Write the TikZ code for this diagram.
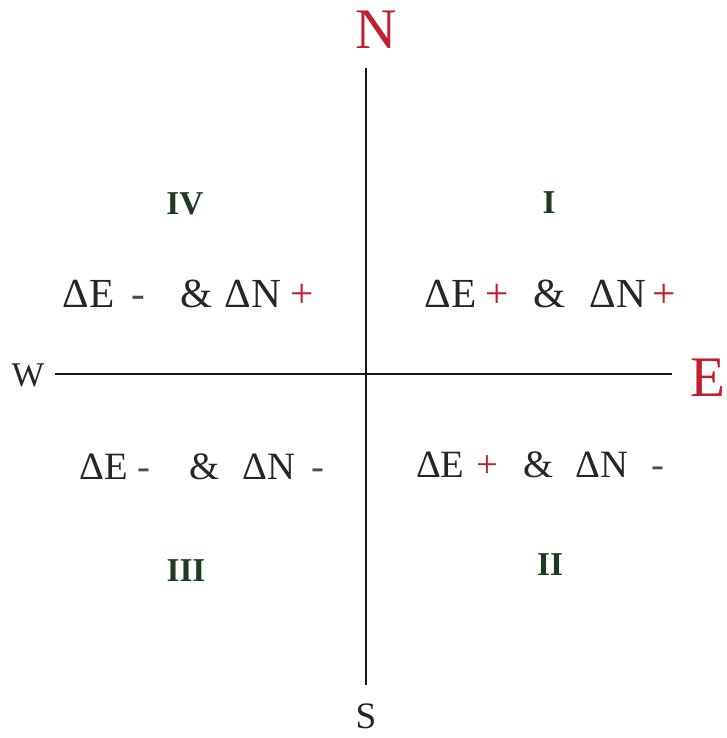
\documentclass[tikz,border=0pt]{standalone}
\usepackage{fontspec}
\usepackage{graphicx}
\setmainfont{Liberation Serif}
\definecolor{compred}{HTML}{C0202E}
\definecolor{quadgreen}{HTML}{1F3A22}
\newcommand{\pl}{\textcolor{compred}{+}}
\newcommand{\mn}{\textcolor{black!70}{-}}
\newcommand{\gp}[1]{\hspace{#1em}}
\begin{document}
\begin{tikzpicture}[x=0.75pt,y=-0.75pt,
  axis/.style={line width=2.2pt, black!90},
  bigdir/.style={font=\fontsize{43}{43}\selectfont, text=compred, inner sep=0pt},
  smalldir/.style={text=black!85, inner sep=0pt},
  quad/.style={font=\fontsize{25}{25}\selectfont\bfseries, text=quadgreen, inner sep=0pt},
  signtop/.style={font=\fontsize{31}{31}\selectfont, text=black!85, inner sep=0pt},
  signbot/.style={font=\fontsize{29}{29}\selectfont, text=black!85, inner sep=0pt}]
\useasboundingbox (0,0) rectangle (727,738);
% axes
\coordinate (top) at (366,68);
\coordinate (bottom) at (366,685);
\coordinate (left) at (55,374);
\coordinate (right) at (672,374);
\draw[axis] (top) -- (bottom);
\draw[axis] (left) -- (right);
% directions
\node[bigdir] (n) at (376,30) {N};
\node[bigdir] (e) at (708,378) {E};
\node[smalldir, font=\fontsize{26}{26}\selectfont] (w) at (28,375) {W};
\node[smalldir, font=\fontsize{28}{28}\selectfont] (s) at (366,716) {S};
% quadrant numerals
\node[quad] (q4) at (185,204) {IV};
\node[quad] (q1) at (549,203) {I};
\node[quad] (q3) at (186,571) {III};
\node[quad] (q2) at (550,565) {II};
% sign rules
\node[signtop] (t4) at (188,294) {ΔE\gp{0.42}\mn\gp{0.84}\&\gp{0.3}ΔN\gp{0.22}\pl};
\node[signtop] (t1) at (550,294) {ΔE\gp{0.22}\pl\gp{0.6}\&\gp{0.58}ΔN\gp{0.15}\pl};
\node[signbot] (t3) at (202,467) {ΔE\gp{0.26}\mn\gp{1.0}\&\gp{0.6}ΔN\gp{0.42}\mn};
\node[signbot] (t2) at (540,465) {ΔE\gp{0.32}\pl\gp{0.65}\&\gp{0.55}ΔN\gp{0.6}\mn};
\end{tikzpicture}
\end{document}
